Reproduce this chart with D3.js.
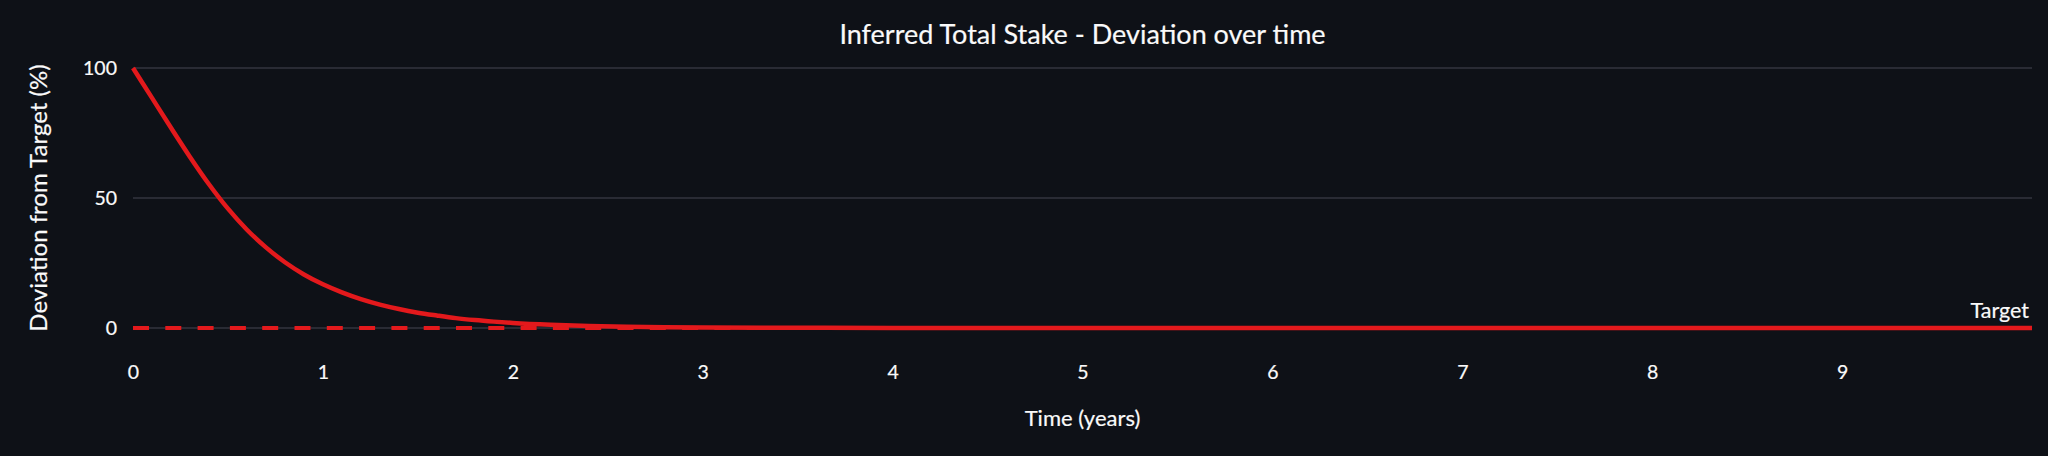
<!DOCTYPE html>
<html lang="en">

<head>
    <meta charset="UTF-8">
    <title>Inferred Total Stake - Deviation over time</title>
    <script src="https://d3js.org/d3.v7.min.js"></script>
    <style>
        html, body {
            margin: 0;
            padding: 0;
            background: #0e1117;
        }

        svg text {
            font-family: 'Lato', 'Open Sans', sans-serif;
            fill: #fafafa;
            stroke: #fafafa;
            stroke-width: 0.2px;
        }
    </style>
</head>

<body>
    <div id="chart"></div>

    <script>
        // Dados
        const years = [0, 0.1, 0.2, 0.3, 0.4, 0.5, 0.6, 0.7, 0.8, 0.9, 1.0,
            1.1, 1.2, 1.3, 1.4, 1.5, 1.6, 1.7, 1.8, 1.9, 2.0,
            2.2, 2.4, 2.6, 2.8, 3.0, 3.5, 4, 5, 6, 7, 8, 9, 10];
        const deviation = [100, 88.5, 77, 65.8, 55.3, 45.9, 37.8, 31, 25.3, 20.6, 16.8,
            13.7, 11.1, 9, 7.3, 5.9, 4.8, 3.8, 3.05, 2.45, 1.95,
            1.25, 0.8, 0.5, 0.32, 0.2, 0.08, 0, 0, 0, 0, 0, 0, 0];
        const targetValue = 0;
        const xTicks = [0, 1, 2, 3, 4, 5, 6, 7, 8, 9];
        const yTicks = [0, 50, 100];

        const width = 2048;
        const height = 456;
        const margin = { top: 68, right: 16, bottom: 128, left: 133 };

        const svg = d3.select("#chart")
            .append("svg")
            .attr("width", width)
            .attr("height", height);

        const x = d3.scaleLinear()
            .domain([0, 10])
            .range([margin.left, width - margin.right]);

        const y = d3.scaleLinear()
            .domain([0, 100])
            .range([height - margin.bottom, margin.top]);

        const red = "#e3191c";

        // Grade horizontal
        svg.append("g")
            .selectAll("line")
            .data(yTicks)
            .join("line")
            .attr("x1", x(0))
            .attr("x2", x(10))
            .attr("y1", d => y(d))
            .attr("y2", d => y(d))
            .attr("stroke", "#33353f")
            .attr("stroke-width", 1.5);

        // Eixo Y (só os rótulos)
        const yAxis = svg.append("g")
            .attr("transform", `translate(${margin.left},0)`)
            .call(d3.axisLeft(y).tickValues(yTicks).tickSize(0).tickPadding(16));
        yAxis.select(".domain").remove();
        yAxis.selectAll("text")
            .attr("font-size", "19.5px")
            .attr("fill", "#fafafa");

        // Eixo X
        const xAxis = svg.append("g")
            .attr("transform", `translate(0,${y(0) + 37})`)
            .call(d3.axisBottom(x).tickValues(xTicks).tickSize(0).tickPadding(0));
        xAxis.select(".domain").remove();
        xAxis.selectAll("text")
            .attr("font-size", "19.5px")
            .attr("fill", "#fafafa");

        // Linha alvo tracejada
        svg.append("line")
            .attr("x1", x(0))
            .attr("x2", x(10))
            .attr("y1", y(targetValue))
            .attr("y2", y(targetValue))
            .attr("stroke", red)
            .attr("stroke-width", 4)
            .attr("stroke-dasharray", "16,16.3");

        // Curva de desvio
        const points = years.map((t, i) => [t, deviation[i]]);
        const line = d3.line()
            .x(d => x(d[0]))
            .y(d => y(d[1]))
            .curve(d3.curveMonotoneX);

        svg.append("path")
            .datum(points)
            .attr("d", line)
            .attr("fill", "none")
            .attr("stroke", red)
            .attr("stroke-width", 4.5);

        // Anotação "Target"
        svg.append("text")
            .attr("x", x(10) - 3)
            .attr("y", y(targetValue) - 10)
            .attr("text-anchor", "end")
            .attr("font-size", "21.5px")
            .text("Target");

        // Título
        svg.append("text")
            .attr("x", (x(0) + x(10)) / 2)
            .attr("y", 44)
            .attr("text-anchor", "middle")
            .attr("font-size", "27px")
            .text("Inferred Total Stake - Deviation over time");

        // Título eixo X
        svg.append("text")
            .attr("x", (x(0) + x(10)) / 2)
            .attr("y", 426)
            .attr("text-anchor", "middle")
            .attr("font-size", "22px")
            .text("Time (years)");

        // Título eixo Y
        svg.append("text")
            .attr("transform", `translate(47,${y(50)}) rotate(-90)`)
            .attr("text-anchor", "middle")
            .attr("font-size", "24px")
            .text("Deviation from Target (%)");
    </script>
</body>

</html>
